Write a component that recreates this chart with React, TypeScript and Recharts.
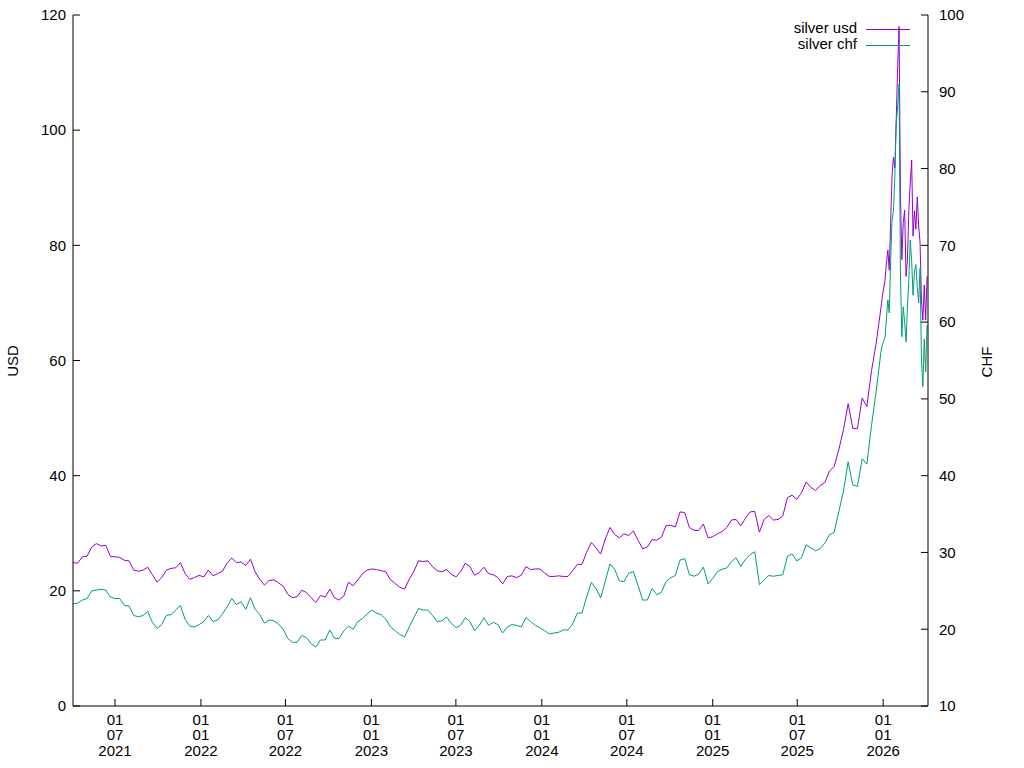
import { LineChart, Line, XAxis, YAxis, Legend } from 'recharts'

const DAY = 86400000
const START = Date.UTC(2021, 3, 2)
const END = START + 1831 * DAY

// 10-day samples from 2021-04-02 to 2025-12-27
const usdMain = [
  24.9, 24.8, 25.9, 26.0, 27.6, 28.2, 27.8, 27.9, 26.0, 25.9,
  25.8, 25.3, 25.2, 23.6, 23.4, 23.6, 24.1, 22.8, 21.5, 22.3,
  23.6, 23.9, 24.0, 24.9, 23.0, 22.0, 22.3, 22.7, 22.4, 23.6,
  22.6, 23.0, 23.4, 24.8, 25.7, 24.9, 25.0, 24.4, 25.5, 23.3,
  22.0, 21.0, 21.8, 21.9, 21.4, 20.8, 19.4, 18.8, 19.0, 20.1,
  19.7, 18.8, 18.0, 19.2, 18.9, 20.3, 18.8, 18.4, 19.1, 21.5,
  20.9, 21.9, 23.0, 23.6, 23.8, 23.7, 23.5, 23.3, 21.9, 21.3,
  20.6, 20.3, 22.0, 23.4, 25.2, 25.1, 25.2, 24.2, 23.5, 23.3,
  23.7, 22.9, 22.4, 23.3, 24.8, 24.2, 22.7, 23.2, 24.1, 23.0,
  22.8, 22.3, 21.2, 22.5, 22.6, 22.3, 22.7, 24.2, 23.7, 23.8,
  23.8, 23.1, 22.5, 22.5, 22.6, 22.5, 22.5, 23.5, 24.6, 24.6,
  26.7, 28.4, 27.5, 26.4, 29.0, 31.0, 29.8, 29.2, 29.9, 29.6,
  30.4, 28.8, 27.3, 27.6, 28.9, 28.8, 29.3, 31.3, 31.4, 31.1,
  33.7, 33.6, 31.0, 30.5, 30.5, 31.6, 29.2, 29.4, 29.9, 30.3,
  31.0, 32.3, 32.4, 31.3, 32.6, 33.7, 33.8, 30.2, 32.4, 33.1,
  32.3, 32.4, 33.0, 36.2, 36.6, 35.9, 37.0, 38.9, 38.0, 37.4,
  38.3, 38.8, 40.8, 41.6, 44.5, 48.0, 52.5, 48.2, 48.2, 53.5,
  52.0, 58.2, 63.0, 69.0,
]

const chfMain = [
  23.3, 23.4, 23.8, 24.0, 25.0, 25.1, 25.2, 25.1, 24.2, 24.0,
  24.0, 23.1, 23.0, 21.8, 21.6, 21.8, 22.3, 20.9, 20.1, 20.6,
  21.8, 21.9, 22.5, 23.1, 21.3, 20.4, 20.3, 20.6, 21.0, 21.8,
  21.0, 21.2, 22.0, 22.9, 24.0, 23.2, 23.6, 22.6, 24.1, 22.6,
  21.9, 20.8, 21.2, 21.1, 20.7, 20.0, 18.8, 18.3, 18.3, 19.2,
  18.9, 18.1, 17.7, 18.6, 18.6, 19.9, 18.8, 18.8, 19.8, 20.4,
  20.0, 21.0, 21.4, 22.0, 22.5, 22.1, 21.9, 21.3, 20.3, 19.8,
  19.3, 19.0, 20.3, 21.5, 22.7, 22.5, 22.5, 21.8, 21.0, 21.1,
  21.6, 20.8, 20.2, 20.5, 21.5, 21.0, 19.8, 20.5, 21.5, 20.5,
  20.9, 20.6, 19.5, 20.3, 20.6, 20.5, 20.3, 21.5, 21.0, 20.5,
  20.2, 19.8, 19.4, 19.5, 19.6, 19.9, 19.9, 20.7, 22.1, 22.1,
  24.2, 26.1, 25.3, 24.1, 26.3, 28.5, 27.8, 26.3, 26.2, 27.3,
  27.5, 25.7, 23.8, 23.8, 25.3, 24.5, 24.8, 26.2, 26.7, 27.0,
  29.0, 29.2, 27.1, 26.9, 27.2, 28.1, 25.9, 26.6, 27.5, 27.8,
  28.0, 28.8, 29.3, 28.2, 29.1, 29.7, 30.1, 25.8, 26.4, 27.0,
  26.9, 27.0, 27.1, 29.5, 29.8, 28.9, 29.3, 31.0, 30.6, 30.2,
  30.5, 31.2, 32.3, 32.6, 35.3, 38.0, 41.8, 38.8, 38.6, 42.2,
  41.5, 46.5, 51.0, 56.0,
]

// 3-day samples from 2025-12-30 on, where the price swings fast
const usdTail = [
  71.0, 72.5, 74.0, 77.0, 79.2, 75.7, 84.0, 92.0, 95.3, 93.5,
  102.0, 111.0, 118.0, 89.0, 77.5, 84.0, 86.1, 74.6, 77.5, 86.1,
  90.8, 94.8, 81.6, 86.0, 82.8, 88.4, 83.4, 80.5, 70.5, 67.0,
  73.1, 67.0, 74.6,
]

const chfTail = [
  57.0, 57.5, 58.0, 60.5, 62.9, 61.2, 68.0, 73.3, 74.4, 79.0,
  86.0, 88.0, 91.0, 66.0, 58.1, 62.0, 60.0, 57.4, 62.0, 65.5,
  70.7, 68.0, 63.5, 66.5, 67.5, 64.5, 62.5, 67.0, 55.1, 51.6,
  57.8, 53.5, 59.6,
]

const dateTicks = [
  '2021-07-01', '2022-01-01', '2022-07-01', '2023-01-01', '2023-07-01',
  '2024-01-01', '2024-07-01', '2025-01-01', '2025-07-01', '2026-01-01',
].map(s => Date.parse(s))

const usdTicks = [0, 20, 40, 60, 80, 100, 120]
const chfTicks = [10, 20, 30, 40, 50, 60, 70, 80, 90, 100]

const rows = [
  ...usdMain.map((v, i) => ({ t: START + i * 10 * DAY, usd: v, chf: chfMain[i] })),
  ...usdTail.map((v, k) => ({ t: START + (1733 + 3 * k) * DAY, usd: v, chf: chfTail[k] })),
]

const PURPLE = '#9400d3'
const GREEN = '#009e73'
const FONT = '"Liberation Sans", Arial, sans-serif'
const tickStyle = { fill: '#000', fontSize: 15, fontFamily: FONT }

const pad = (n: number) => String(n).padStart(2, '0')

function DateTick({ x, y, payload }: any) {
  const d = new Date(payload.value)
  return (
    <text x={x} y={y} textAnchor="middle" fill="#000" fontSize={15} fontFamily={FONT}>
      <tspan x={x} y={y + 19}>{pad(d.getUTCDate())}</tspan>
      <tspan x={x} y={y + 34}>{pad(d.getUTCMonth() + 1)}</tspan>
      <tspan x={x} y={y + 49.5}>{d.getUTCFullYear()}</tspan>
    </text>
  )
}

function AxisTitle({ text, cx, cy }: { text: string; cx: number; cy: number }) {
  return (
    <text x={cx} y={cy} transform={`rotate(-90 ${cx} ${cy})`} textAnchor="middle"
      dominantBaseline="central" fill="#000" fontSize={15} fontFamily={FONT}>
      {text}
    </text>
  )
}

function Key() {
  return (
    <svg width={1024} height={60} style={{ display: 'block' }}>
      <text x={857} y={33} textAnchor="end" fill="#000" fontSize={15} fontFamily={FONT}>silver usd</text>
      <line x1={866} x2={910} y1={29.5} y2={29.5} stroke={PURPLE} />
      <text x={857} y={48.5} textAnchor="end" fill="#000" fontSize={15} fontFamily={FONT}>silver chf</text>
      <line x1={866} x2={910} y1={45.5} y2={45.5} stroke={GREEN} />
    </svg>
  )
}

export default function App() {
  return (
    <div style={{ position: 'absolute', left: 0, top: 0, width: 1024, height: 768, background: '#fff', fontFamily: FONT }}>
      <LineChart width={1024} height={768} data={rows} margin={{ top: 15, right: 36, bottom: 12, left: 13 }}>
        <XAxis dataKey="t" type="number" scale="linear" domain={[START, END]} ticks={dateTicks}
          allowDataOverflow height={50} stroke="#000" tickSize={-7} tickMargin={7}
          tick={<DateTick />} interval={0} />
        <XAxis xAxisId="top" orientation="top" dataKey="t" type="number" domain={[START, END]}
          ticks={dateTicks} allowDataOverflow height={0} stroke="#000" tickSize={-7} tick={false} interval={0} />
        <YAxis yAxisId="usd" domain={[0, 120]} ticks={usdTicks} width={60} stroke="#000"
          tickSize={-7} tickMargin={14} tick={tickStyle} interval={0}
          label={<AxisTitle text="USD" cx={12} cy={361} />} />
        <YAxis yAxisId="chf" orientation="right" domain={[10, 100]} ticks={chfTicks} width={60}
          stroke="#000" tickSize={-7} tickMargin={18} tick={{ ...tickStyle, textAnchor: 'start' }} interval={0}
          label={<AxisTitle text="CHF" cx={986} cy={362} />} />
        <Legend layout="vertical" align="center" verticalAlign="middle" content={<Key />}
          wrapperStyle={{ left: 0, top: 0, width: 1024, height: 60, pointerEvents: 'none' }} />
        <Line yAxisId="usd" type="linear" dataKey="usd" name="silver usd" stroke={PURPLE}
          strokeWidth={1} dot={false} activeDot={false} isAnimationActive={false} />
        <Line yAxisId="chf" type="linear" dataKey="chf" name="silver chf" stroke={GREEN}
          strokeWidth={1} dot={false} activeDot={false} isAnimationActive={false} />
      </LineChart>
    </div>
  )
}
